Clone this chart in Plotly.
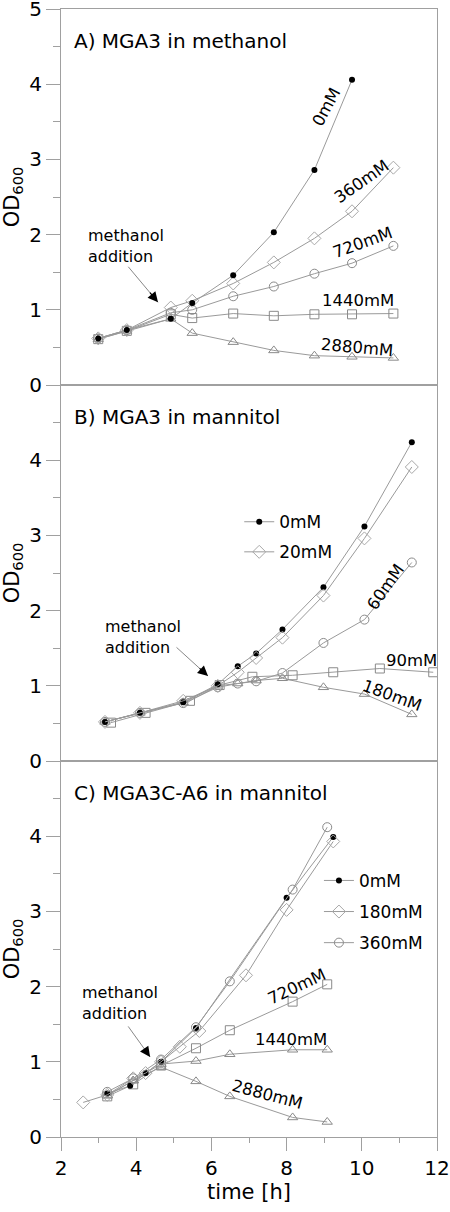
import plotly.graph_objects as go
from plotly.subplots import make_subplots

# ---------------- data ----------------
# Panel A: MGA3 in methanol
A_t = [2.99, 3.75, 4.92, 5.49, 6.58, 7.66, 8.74, 9.74, 10.84]
A_0mM = [0.62, 0.73, 0.88, 1.09, 1.46, 2.03, 2.86, 4.06]
A_360mM = [0.62, 0.73, 1.03, 1.12, 1.35, 1.63, 1.95, 2.31, 2.89]
A_720mM = [0.62, 0.73, 0.96, 1.00, 1.18, 1.31, 1.48, 1.62, 1.85]
A_1440mM = [0.61, 0.72, 0.94, 0.89, 0.95, 0.92, 0.94, 0.94, 0.95]
A_2880mM = [0.61, 0.72, 0.88, 0.69, 0.57, 0.46, 0.39, 0.375, 0.36]

# Panel B: MGA3 in mannitol
B_t = [3.17, 4.10, 5.25, 6.17, 6.70, 7.19, 7.89, 8.98, 10.07, 11.33]
B_0mM = [0.52, 0.64, 0.78, 1.02, 1.26, 1.43, 1.75, 2.31, 3.12, 4.24]
B_20mM = [0.52, 0.64, 0.80, 1.00, 1.18, 1.37, 1.64, 2.20, 2.96, 3.91]
B_60mM = [0.52, 0.64, 0.77, 0.98, 1.03, 1.06, 1.17, 1.57, 1.88, 2.64]
B_180mM = [0.52, 0.64, 0.78, 1.00, 1.03, 1.07, 1.10, 0.98, 0.89, 0.62]
B_t90 = [3.33, 4.25, 5.43, 6.22, 7.09, 8.16, 9.24, 10.48, 11.90]
B_90mM = [0.51, 0.64, 0.80, 1.01, 1.12, 1.14, 1.18, 1.23, 1.18]

# Panel C: MGA3C-A6 in mannitol
C_t0 = [3.23, 3.84, 4.25, 4.66, 5.59, 8.00, 9.24]
C_0mM = [0.58, 0.68, 0.85, 1.00, 1.45, 3.18, 3.99]
C_t180 = [2.59, 3.23, 3.92, 4.25, 4.66, 5.16, 5.68, 6.92, 8.00, 9.24]
C_180mM = [0.46, 0.56, 0.78, 0.85, 1.00, 1.20, 1.41, 2.15, 3.02, 3.93]
C_t = [3.23, 3.92, 4.66, 5.59, 6.49, 8.16, 9.08]
C_360mM = [0.60, 0.78, 1.03, 1.46, 2.07, 3.29, 4.12]
C_720mM = [0.54, 0.70, 0.95, 1.18, 1.42, 1.80, 2.03]
C_1440mM = [0.55, 0.75, 0.97, 1.01, 1.10, 1.16, 1.16]
C_2880mM = [0.55, 0.75, 0.93, 0.74, 0.54, 0.26, 0.20]

panel_titles = ["A) MGA3 in methanol", "B) MGA3 in mannitol", "C) MGA3C-A6 in mannitol"]
x_ticks = [2, 4, 6, 8, 10, 12]
y_ticks_top = [0, 1, 2, 3, 4, 5]
y_ticks = [0, 1, 2, 3, 4]

# ---------------- style ----------------
FONT = "DejaVu Sans"
LINE = "#9a9a9a"
MK = "#8a8a8a"
AX = "#a0a0a0"

sty = {
    "filled": dict(symbol="circle", size=6, color="black", line=dict(width=0)),
    "diamond": dict(symbol="diamond-open", size=10, color="#a8a8a8", line=dict(width=1)),
    "circle": dict(symbol="circle-open", size=9, color=MK, line=dict(width=1)),
    "square": dict(symbol="square-open", size=9, color=MK, line=dict(width=1)),
    "triangle": dict(symbol="triangle-up-open", size=9, color=MK, line=dict(width=1)),
}

fig = make_subplots(rows=3, cols=1, vertical_spacing=0)


def add(row, t, v, kind, name, legend=None):
    fig.add_trace(
        go.Scatter(
            x=t[: len(v)], y=v, mode="lines+markers", name=name,
            line=dict(color=LINE, width=1), marker=sty[kind],
            showlegend=legend is not None,
            legend=legend if legend else "legend",
            legendgroup=name + str(row),
        ),
        row=row, col=1,
    )


add(1, A_t, A_2880mM, "triangle", "2880mM")
add(1, A_t, A_1440mM, "square", "1440mM")
add(1, A_t, A_720mM, "circle", "720mM")
add(1, A_t, A_360mM, "diamond", "360mM")
add(1, A_t, A_0mM, "filled", "0mM")

add(2, B_t, B_180mM, "triangle", "180mM")
add(2, B_t90, B_90mM, "square", "90mM")
add(2, B_t, B_60mM, "circle", "60mM")
add(2, B_t, B_0mM, "filled", "0mM", legend="legend")
add(2, B_t, B_20mM, "diamond", "20mM", legend="legend")

add(3, C_t, C_2880mM, "triangle", "2880mM")
add(3, C_t, C_1440mM, "triangle", "1440mM")
add(3, C_t, C_720mM, "square", "720mM")
add(3, C_t0, C_0mM, "filled", "0mM", legend="legend2")
add(3, C_t180, C_180mM, "diamond", "180mM", legend="legend2")
add(3, C_t, C_360mM, "circle", "360mM", legend="legend2")

for i in range(1, 4):
    fig.update_xaxes(
        row=i, col=1, range=[2, 12], showline=True, linecolor=AX, linewidth=1,
        mirror=True, showgrid=False, zeroline=False, automargin=False,
        tickvals=x_ticks, ticklabeloverflow="allow",
        ticks="outside" if i == 3 else "", ticklen=13, tickcolor=AX,
        showticklabels=(i == 3),
        tickfont=dict(family=FONT, size=20, color="black"),
        minor=dict(ticks="outside" if i == 3 else "", ticklen=5, dtick=1, tickcolor=AX, tick0=2),
    )
    fig.update_yaxes(
        row=i, col=1, range=[0, 5], showline=True, linecolor=AX, linewidth=1,
        mirror=True, showgrid=False, zeroline=False, automargin=False,
        tickmode="array", tickvals=y_ticks_top if i == 1 else y_ticks,
        ticklabeloverflow="allow",
        ticks="outside", ticklen=14, tickcolor=AX,
        tickfont=dict(family=FONT, size=20, color="black"),
        minor=dict(ticks="outside", ticklen=7, tickcolor=AX,
                   tickmode="array", tickvals=[0.5, 1.5, 2.5, 3.5, 4.5]),
        title=dict(text="OD<sub>600</sub>", font=dict(family=FONT, size=21, color="black"), standoff=6),
    )

fig.update_xaxes(row=3, col=1, title=dict(text="time [h]", font=dict(family=FONT, size=21, color="black"), standoff=4))

ann = []
for i, txt in enumerate(panel_titles, start=1):
    yr = "y" if i == 1 else f"y{i}"
    ann.append(dict(text=txt, x=2.28, y=4.58, xref="x" if i == 1 else f"x{i}", yref=yr,
                    xanchor="left", yanchor="middle", showarrow=False,
                    font=dict(family=FONT, size=20, color="black")))


def label(row, txt, x, y, ang):
    s = "" if row == 1 else str(row)
    ann.append(dict(text=txt, x=x, y=y, xref="x" + s, yref="y" + s, textangle=ang,
                    showarrow=False, font=dict(family=FONT, size=16.5, color="black")))


label(1, "0mM", 9.07, 3.70, -62)
label(1, "360mM", 10.0, 2.70, -35)
label(1, "720mM", 10.03, 1.89, -20)
label(1, "1440mM", 9.90, 1.13, 0)
label(1, "2880mM", 9.87, 0.505, 5)
label(2, "60mM", 10.62, 2.31, -55)
label(2, "90mM", 11.31, 1.33, 0)
label(2, "180mM", 10.80, 0.865, 20)
label(3, "720mM", 8.28, 2.00, -25)
label(3, "1440mM", 8.12, 1.30, 0)
label(3, "2880mM", 7.48, 0.56, 15)


def addition(row, tx, ty, hx, hy, ax, ay):
    s = "" if row == 1 else str(row)
    ann.append(dict(text="methanol<br>addition", x=tx, y=ty, xref="x" + s, yref="y" + s,
                    xanchor="left", yanchor="middle", align="left", showarrow=False,
                    font=dict(family=FONT, size=16, color="black")))
    ann.append(dict(text="", x=hx, y=hy, xref="x" + s, yref="y" + s, ax=ax, ay=ay,
                    showarrow=True, arrowhead=0, arrowwidth=1, arrowcolor="#888888"))
    ann.append(dict(text="", x=hx, y=hy, xref="x" + s, yref="y" + s, ax=ax * 0.3, ay=ay * 0.3,
                    showarrow=True, arrowhead=2, arrowsize=1.7, arrowwidth=1.2, arrowcolor="black"))


addition(1, 2.66, 1.855, 4.58, 1.10, -31, -37)
addition(2, 3.12, 1.65, 5.91, 1.13, -33, -30)
addition(3, 2.51, 1.78, 4.37, 1.065, -23, -32)

fig.update_layout(
    width=450, height=1212,
    margin=dict(l=61, r=13, t=9, b=75),
    plot_bgcolor="white", paper_bgcolor="white",
    font=dict(family=FONT, size=15, color="black"),
    annotations=ann,
    legend=dict(x=0.474, y=0.561, xanchor="left", yanchor="top", bgcolor="rgba(0,0,0,0)",
                font=dict(family=FONT, size=17, color="black"), tracegroupgap=5,
                itemwidth=30),
    legend2=dict(x=0.686, y=0.243, xanchor="left", yanchor="top", bgcolor="rgba(0,0,0,0)",
                 font=dict(family=FONT, size=17, color="black"), tracegroupgap=6,
                 itemwidth=30),
)

fig.write_html(
    "out.html",
    config={"displayModeBar": False},
    post_script="document.body.style.margin='0';document.body.style.overflow='hidden';",
)
